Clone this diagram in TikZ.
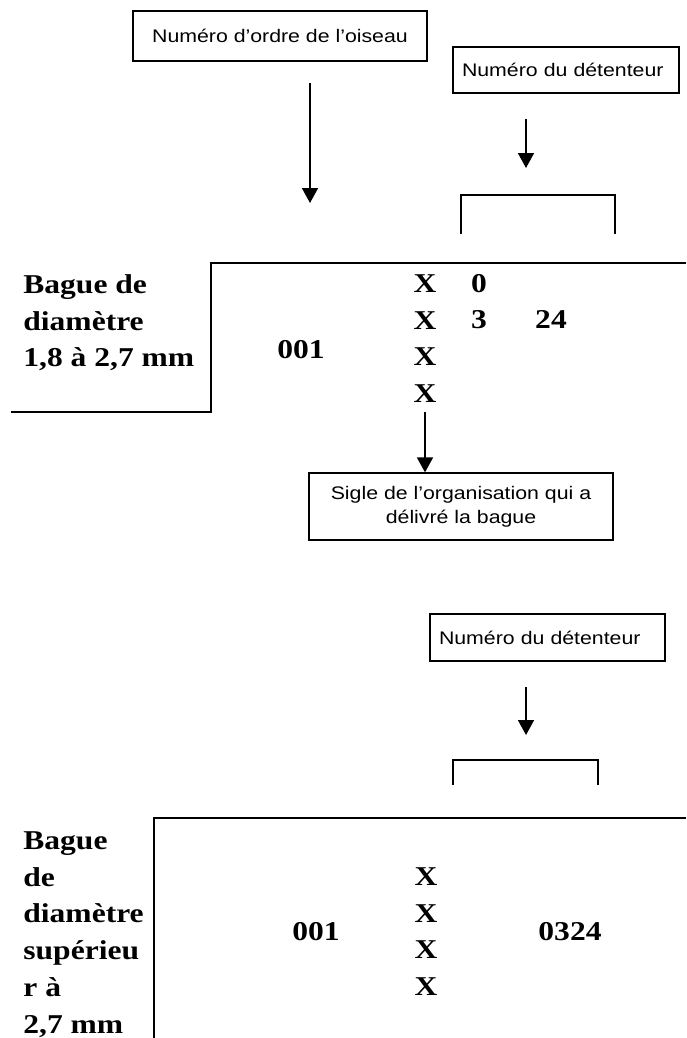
\documentclass[tikz,border=0pt]{standalone}
\usepackage{fontspec}
\setmainfont{Liberation Serif}[FakeStretch=1.16]
\setsansfont{Liberation Sans}[FakeStretch=1.17]
\usetikzlibrary{arrows.meta}

\begin{document}
\begin{tikzpicture}[x = 0.5pt, y = -0.5pt,
        trait/.style = {line width = 0.65pt},
        crochet/.style = {line width = 0.85pt},
        fleche/.style = {line width = 0.9pt, -{Triangle[width = 8pt, length = 7.5pt]}},
        boite/.style = {draw, line width = 0.65pt, inner sep = 0pt, align = center,
                font = \sffamily\fontsize{9.1}{12}\selectfont},
        gras/.style = {inner sep = 0pt, font = \bfseries\fontsize{13.6}{18.4}\selectfont}]
        \useasboundingbox (0, 0) rectangle (686, 1038);
        % bague de 1,8 a 2,7 mm
        \node[boite, minimum width = 147pt, minimum height = 25pt] (ordre) at (280, 36) {Numéro d’ordre de l’oiseau};
        \node[boite, inner xsep = 4.5pt, text width = 104pt, align = left, minimum height = 23pt] (det1) at (566, 70) {Numéro du détenteur};
        \coordinate (a1) at (310, 83);
        \coordinate (b1) at (310, 203);
        \draw[fleche] (a1) -- (b1);
        \coordinate (a2) at (526, 119);
        \coordinate (b2) at (526, 168);
        \draw[fleche] (a2) -- (b2);
        \draw[crochet] (461, 234) -- (461, 195) -- (615, 195) -- (615, 234);
        \draw[trait] (686, 263) -- (211, 263) -- (211, 412) -- (11, 412);
        \node[gras, anchor = north west, align = left] (bague1) at (23, 274) {Bague de\\diamètre\\1,8 à 2,7 mm};
        \node[gras, anchor = base] (num1) at (301, 358) {001};
        \node[gras, anchor = north, align = center] (sigles1) at (425, 274) {X\\X\\X\\X};
        \node[gras, anchor = base] (zero) at (479, 292) {0};
        \node[gras, anchor = base] (trois) at (479, 328) {3};
        \node[gras, anchor = base] (vingt) at (551, 328) {24};
        \node[boite, minimum width = 152pt, minimum height = 33.5pt] (sigle) at (461, 506.5) {Sigle de l’organisation qui a\\délivré la bague};
        \coordinate (a3) at (425, 412);
        \draw[fleche] (a3) -- (a3 |- sigle.north);
        % bague superieure a 2,7 mm
        \node[boite, inner xsep = 4.5pt, text width = 108.5pt, align = left, minimum height = 23.5pt] (det2) at (547.5, 637.5) {Numéro du détenteur};
        \coordinate (a4) at (526, 687);
        \coordinate (b4) at (526, 735);
        \draw[fleche] (a4) -- (b4);
        \draw[crochet] (453, 785) -- (453, 760) -- (598, 760) -- (598, 785);
        \draw[trait] (686, 818) -- (154, 818) -- (154, 1038);
        \node[gras, anchor = north west, align = left] (bague2) at (23, 831) {Bague\\de\\diamètre\\supérieu\\r à\\2,7 mm};
        \node[gras, anchor = base] (num2) at (316, 940) {001};
        \node[gras, anchor = north, align = center] (sigles2) at (426, 867) {X\\X\\X\\X};
        \node[gras, anchor = base] (det) at (570, 940) {0324};
\end{tikzpicture}
\end{document}
